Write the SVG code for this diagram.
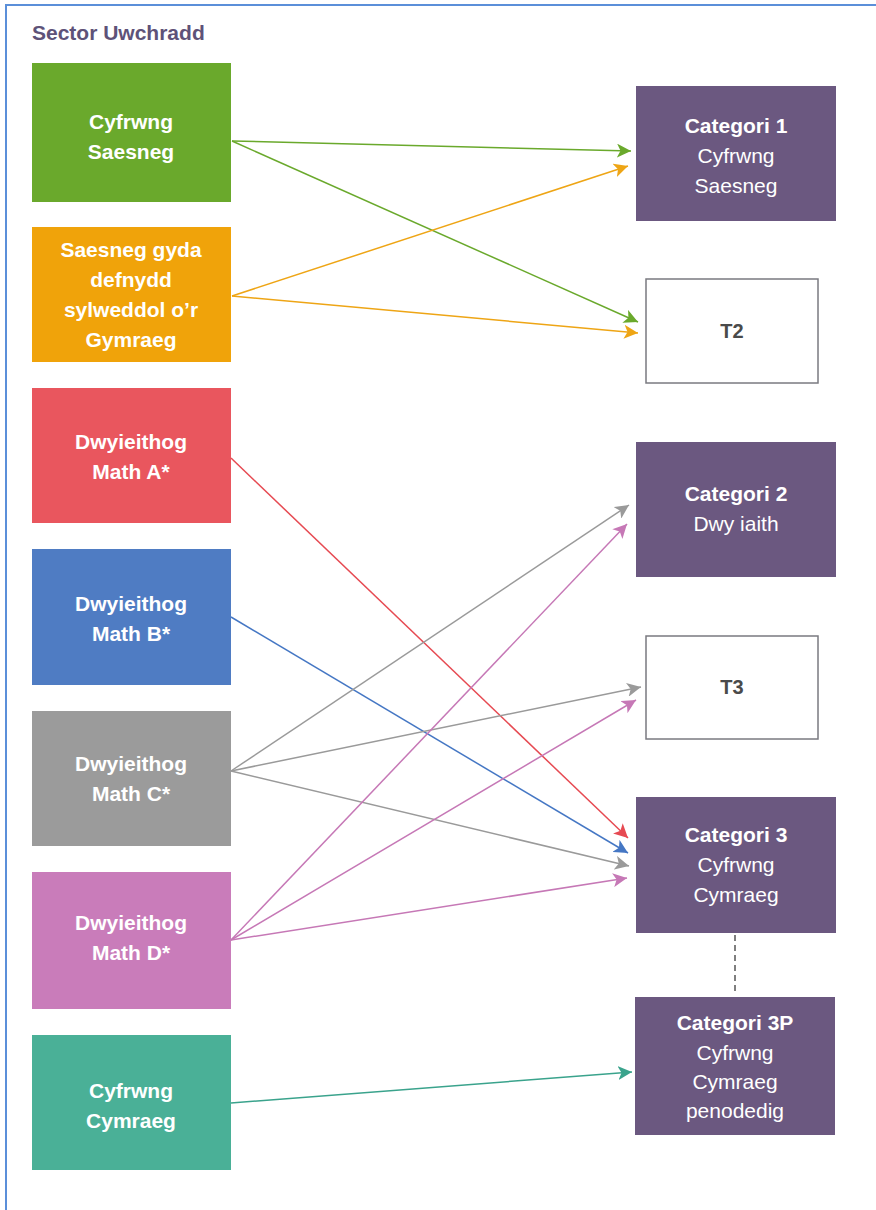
<svg xmlns="http://www.w3.org/2000/svg" width="876" height="1210" viewBox="0 0 876 1210">
<style>
.lt{font-family:"Liberation Sans",Arial,sans-serif;font-size:21px;font-weight:bold;fill:#fff;text-anchor:middle}
.rt{font-family:"Liberation Sans",Arial,sans-serif;font-size:21px;fill:#fff;text-anchor:middle}
.rb{font-weight:bold}
.tt{font-family:"Liberation Sans",Arial,sans-serif;font-size:20px;font-weight:bold;fill:#4a4a4a;text-anchor:middle}
.cat{fill:#6b5880}
.tb{fill:#fff;stroke:#7a7a80;stroke-width:1.5}
.c{fill:none;stroke-width:1.5}
</style>
<defs>
<marker id="mg" viewBox="0 0 10 10" refX="10" refY="5" markerWidth="14" markerHeight="14" markerUnits="userSpaceOnUse" orient="auto"><path d="M0,0L10,5L0,10L2.5,5z" fill="#6aa92c"/></marker>
<marker id="mo" viewBox="0 0 10 10" refX="10" refY="5" markerWidth="14" markerHeight="14" markerUnits="userSpaceOnUse" orient="auto"><path d="M0,0L10,5L0,10L2.5,5z" fill="#eea515"/></marker>
<marker id="mr" viewBox="0 0 10 10" refX="10" refY="5" markerWidth="14" markerHeight="14" markerUnits="userSpaceOnUse" orient="auto"><path d="M0,0L10,5L0,10L2.5,5z" fill="#e64a52"/></marker>
<marker id="mb" viewBox="0 0 10 10" refX="10" refY="5" markerWidth="14" markerHeight="14" markerUnits="userSpaceOnUse" orient="auto"><path d="M0,0L10,5L0,10L2.5,5z" fill="#4577c4"/></marker>
<marker id="my" viewBox="0 0 10 10" refX="10" refY="5" markerWidth="14" markerHeight="14" markerUnits="userSpaceOnUse" orient="auto"><path d="M0,0L10,5L0,10L2.5,5z" fill="#9a9a9a"/></marker>
<marker id="mp" viewBox="0 0 10 10" refX="10" refY="5" markerWidth="14" markerHeight="14" markerUnits="userSpaceOnUse" orient="auto"><path d="M0,0L10,5L0,10L2.5,5z" fill="#c678b6"/></marker>
<marker id="mt" viewBox="0 0 10 10" refX="10" refY="5" markerWidth="14" markerHeight="14" markerUnits="userSpaceOnUse" orient="auto"><path d="M0,0L10,5L0,10L2.5,5z" fill="#3aa38c"/></marker>
</defs>
<rect width="876" height="1210" fill="#fff"/>
<path d="M6,1210V5H876" fill="none" stroke="#5b8fd9" stroke-width="2"/>
<text x="32" y="40" font-family="'Liberation Sans',Arial,sans-serif" font-size="21" font-weight="bold" fill="#5e5278">Sector Uwchradd</text>

<g id="connectors">
<line class="c" x1="232" y1="141" x2="631" y2="151" stroke="#6aa92c" marker-end="url(#mg)"/>
<line class="c" x1="232" y1="141" x2="638" y2="322" stroke="#6aa92c" marker-end="url(#mg)"/>
<line class="c" x1="232" y1="296" x2="628" y2="166" stroke="#eea515" marker-end="url(#mo)"/>
<line class="c" x1="232" y1="296" x2="638" y2="333" stroke="#eea515" marker-end="url(#mo)"/>
<line class="c" x1="231" y1="458" x2="628" y2="838" stroke="#e64a52" marker-end="url(#mr)"/>
<line class="c" x1="231" y1="617" x2="628" y2="853" stroke="#4577c4" marker-end="url(#mb)"/>
<line class="c" x1="231" y1="771" x2="629" y2="505" stroke="#9a9a9a" marker-end="url(#my)"/>
<line class="c" x1="231" y1="771" x2="641" y2="687" stroke="#9a9a9a" marker-end="url(#my)"/>
<line class="c" x1="231" y1="771" x2="629" y2="866" stroke="#9a9a9a" marker-end="url(#my)"/>
<line class="c" x1="231" y1="940" x2="627" y2="524" stroke="#c678b6" marker-end="url(#mp)"/>
<line class="c" x1="231" y1="940" x2="636" y2="700" stroke="#c678b6" marker-end="url(#mp)"/>
<line class="c" x1="231" y1="940" x2="627" y2="878" stroke="#c678b6" marker-end="url(#mp)"/>
<line class="c" x1="231" y1="1103" x2="632" y2="1072" stroke="#3aa38c" marker-end="url(#mt)"/>
<line x1="735" y1="935" x2="735" y2="995" stroke="#555" stroke-width="1.5" stroke-dasharray="6,4"/>
</g>

<g id="n-green"><rect x="32" y="63" width="199" height="139" fill="#6aa92c"/>
<text class="lt" x="131" y="129">Cyfrwng</text><text class="lt" x="131" y="159">Saesneg</text></g>
<g id="n-orange"><rect x="32" y="227" width="199" height="135" fill="#f0a30a"/>
<text class="lt" x="131" y="257">Saesneg gyda</text><text class="lt" x="131" y="287">defnydd</text><text class="lt" x="131" y="317">sylweddol o’r</text><text class="lt" x="131" y="347">Gymraeg</text></g>
<g id="n-red"><rect x="32" y="388" width="199" height="135" fill="#e9565e"/>
<text class="lt" x="131" y="449">Dwyieithog</text><text class="lt" x="131" y="479">Math A*</text></g>
<g id="n-blue"><rect x="32" y="549" width="199" height="136" fill="#4f7cc3"/>
<text class="lt" x="131" y="611">Dwyieithog</text><text class="lt" x="131" y="641">Math B*</text></g>
<g id="n-gray"><rect x="32" y="711" width="199" height="135" fill="#9b9b9b"/>
<text class="lt" x="131" y="771">Dwyieithog</text><text class="lt" x="131" y="801">Math C*</text></g>
<g id="n-pink"><rect x="32" y="872" width="199" height="137" fill="#c97cba"/>
<text class="lt" x="131" y="930">Dwyieithog</text><text class="lt" x="131" y="960">Math D*</text></g>
<g id="n-teal"><rect x="32" y="1035" width="199" height="135" fill="#4ab097"/>
<text class="lt" x="131" y="1098">Cyfrwng</text><text class="lt" x="131" y="1128">Cymraeg</text></g>

<g id="n-cat1"><rect class="cat" x="636" y="86" width="200" height="135"/>
<text class="rt rb" x="736" y="133">Categori 1</text><text class="rt" x="736" y="163">Cyfrwng</text><text class="rt" x="736" y="193">Saesneg</text></g>
<g id="n-t2"><rect class="tb" x="646" y="279" width="172" height="104"/>
<text class="tt" x="732" y="338">T2</text></g>
<g id="n-cat2"><rect class="cat" x="636" y="442" width="200" height="135"/>
<text class="rt rb" x="736" y="501">Categori 2</text><text class="rt" x="736" y="531">Dwy iaith</text></g>
<g id="n-t3"><rect class="tb" x="646" y="636" width="172" height="103"/>
<text class="tt" x="732" y="694">T3</text></g>
<g id="n-cat3"><rect class="cat" x="636" y="797" width="200" height="136"/>
<text class="rt rb" x="736" y="842">Categori 3</text><text class="rt" x="736" y="872">Cyfrwng</text><text class="rt" x="736" y="902">Cymraeg</text></g>
<g id="n-cat3p"><rect class="cat" x="635" y="997" width="200" height="138"/>
<text class="rt rb" x="735" y="1030">Categori 3P</text><text class="rt" x="735" y="1060">Cyfrwng</text><text class="rt" x="735" y="1089">Cymraeg</text><text class="rt" x="735" y="1118">penodedig</text></g>
</svg>
